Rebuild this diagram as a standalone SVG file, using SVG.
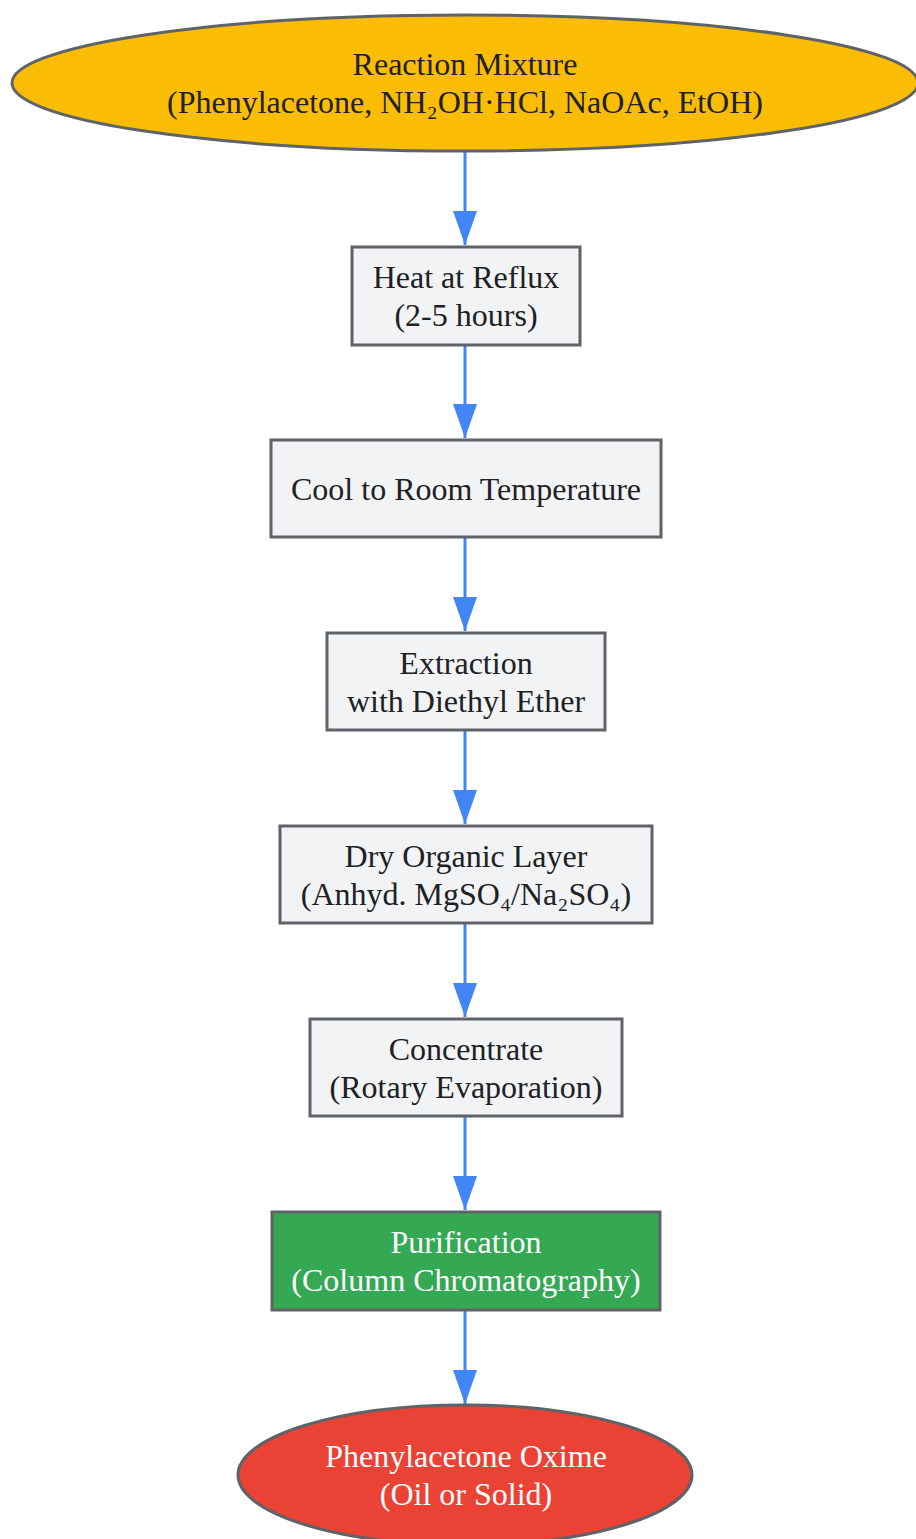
<svg xmlns="http://www.w3.org/2000/svg" width="916" height="1539" viewBox="0 0 916 1539">
<style>
.box{fill:#F1F3F4;stroke:#5F6368;stroke-width:3}
.t{font-family:"Liberation Serif","Times New Roman",serif;font-size:32px;fill:#202124;text-anchor:middle}
.w{fill:#FFFFFF}
.e{stroke:#4285F4;stroke-width:3;fill:none}
</style>
<defs>
<marker id="arr" markerWidth="34" markerHeight="24" refX="34" refY="12" orient="auto" markerUnits="userSpaceOnUse" viewBox="0 0 34 24">
<path d="M0,0 L34,12 L0,24 Z" fill="#4285F4"/>
</marker>
</defs>
<rect width="916" height="1539" fill="#FFFFFF"/>
<g id="connectors">
<line class="e" x1="465" y1="152" x2="465" y2="245" marker-end="url(#arr)"/>
<line class="e" x1="465" y1="346" x2="465" y2="438" marker-end="url(#arr)"/>
<line class="e" x1="465" y1="538" x2="465" y2="631" marker-end="url(#arr)"/>
<line class="e" x1="465" y1="731" x2="465" y2="824" marker-end="url(#arr)"/>
<line class="e" x1="465" y1="924" x2="465" y2="1017" marker-end="url(#arr)"/>
<line class="e" x1="465" y1="1117" x2="465" y2="1210" marker-end="url(#arr)"/>
<line class="e" x1="465" y1="1311" x2="465" y2="1404" marker-end="url(#arr)"/>
</g>
<g id="start">
<ellipse cx="465" cy="83" rx="453" ry="68" fill="#FBBC04" stroke="#5F6368" stroke-width="3"/>
<text class="t" x="465" y="75">Reaction Mixture</text>
<text class="t" x="465" y="113">(Phenylacetone, NH₂OH·HCl, NaOAc, EtOH)</text>
</g>
<g id="reflux">
<rect class="box" x="352" y="247" width="228" height="98"/>
<text class="t" x="466" y="288">Heat at Reflux</text>
<text class="t" x="466" y="326">(2-5 hours)</text>
</g>
<g id="cool">
<rect class="box" x="271" y="440" width="390" height="97"/>
<text class="t" x="466" y="500">Cool to Room Temperature</text>
</g>
<g id="extract">
<rect class="box" x="327" y="633" width="278" height="97"/>
<text class="t" x="466" y="674">Extraction</text>
<text class="t" x="466" y="712">with Diethyl Ether</text>
</g>
<g id="dry">
<rect class="box" x="280" y="826" width="372" height="97"/>
<text class="t" x="466" y="867">Dry Organic Layer</text>
<text class="t" x="466" y="905">(Anhyd. MgSO₄/Na₂SO₄)</text>
</g>
<g id="concentrate">
<rect class="box" x="310" y="1019" width="312" height="97"/>
<text class="t" x="466" y="1060">Concentrate</text>
<text class="t" x="466" y="1098">(Rotary Evaporation)</text>
</g>
<g id="purify">
<rect x="272" y="1212" width="388" height="98" fill="#34A853" stroke="#5F6368" stroke-width="3"/>
<text class="t w" x="466" y="1253">Purification</text>
<text class="t w" x="466" y="1291">(Column Chromatography)</text>
</g>
<g id="product">
<ellipse cx="465" cy="1475" rx="227" ry="70" fill="#EA4335" stroke="#5F6368" stroke-width="3"/>
<text class="t w" x="466" y="1467">Phenylacetone Oxime</text>
<text class="t w" x="466" y="1505">(Oil or Solid)</text>
</g>
</svg>
